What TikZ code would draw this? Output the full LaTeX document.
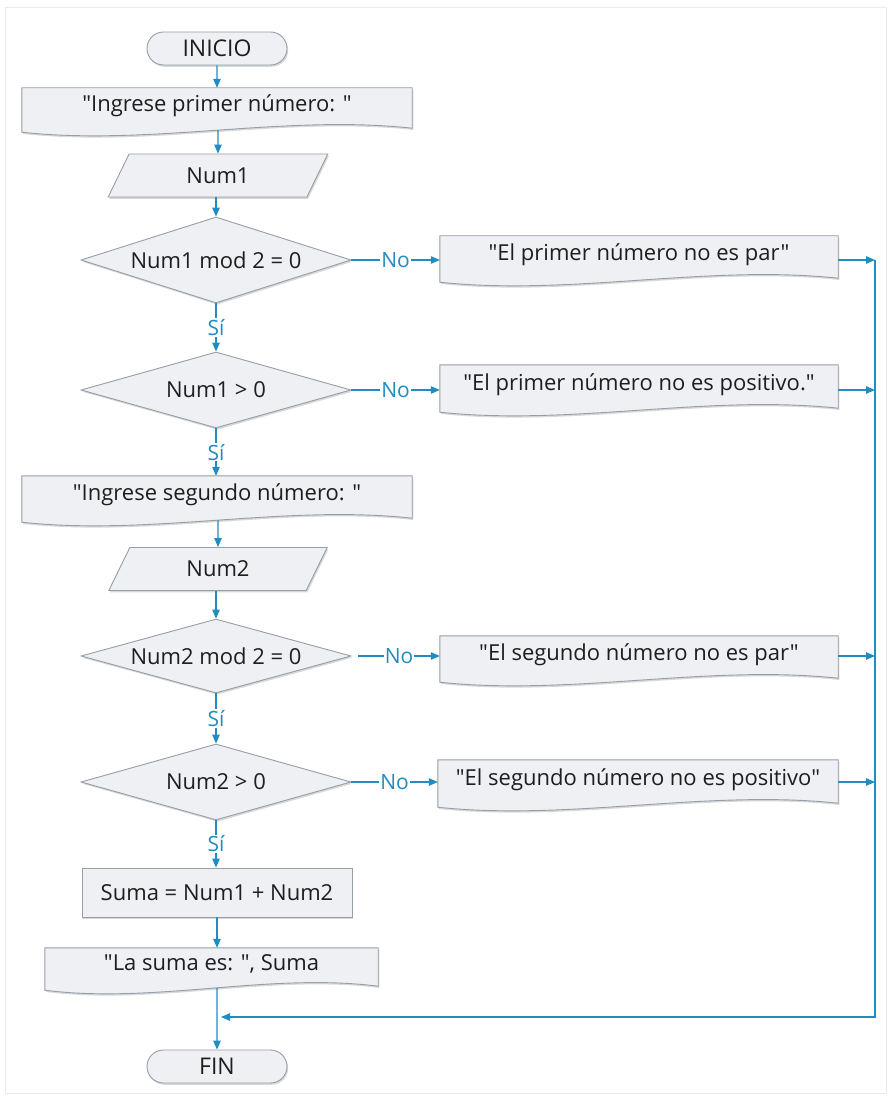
\documentclass[tikz,border=0pt]{standalone}
\usepackage{fontspec}
\setmainfont{Open Sans}[Ligatures=TeXOff]
\usetikzlibrary{shapes.geometric,shapes.misc,arrows.meta,calc,shadows,backgrounds}
\definecolor{arrowblue}{RGB}{32,140,192}
\definecolor{shapefill}{RGB}{238,240,243}
\definecolor{shapeline}{RGB}{150,158,166}
\definecolor{txt}{RGB}{30,30,30}
\newcommand\docpath[1]{%
  \path[docshape] (#1.north west) -- (#1.north east) -- ($(#1.south east)+(0,-2)$)
    .. controls ($(#1.south east)!0.33!(#1.south west)+(0,-16)$) and ($(#1.south east)!0.67!(#1.south west)+(0,16)$) .. ($(#1.south west)+(0,2)$) -- cycle;}
\begin{document}
\begin{tikzpicture}[x=1pt,y=-1pt,
  shadowed/.style={drop shadow={shadow xshift=1.2pt,shadow yshift=-1.8pt,opacity=0.3}},
  txtfont/.style={font=\fontsize{22}{26}\selectfont},
  base/.style={draw=shapeline, fill=shapefill, line width=0.9pt, text=txt, txtfont, inner sep=0pt, shadowed},
  term/.style={base, rounded rectangle, minimum width=140pt, minimum height=33pt, font=\fontsize{23}{26}\selectfont},
  proc/.style={base, rectangle, minimum width=270pt, minimum height=49pt},
  cond/.style={base, diamond, aspect=3.1, minimum width=270pt},
  iobox/.style={base, trapezium, trapezium left angle=65, trapezium right angle=115, trapezium stretches=true, minimum width=220pt, minimum height=43pt},
  docu/.style={text=txt, txtfont, inner sep=0pt, text height=16pt, text depth=11pt},
  docshape/.style={draw=shapeline, fill=shapefill, line width=0.9pt, shadowed},
  arr/.style={draw=arrowblue, line width=1.1pt, -{Triangle[length=9pt,width=7.5pt]}},
  lbl/.style={text=arrowblue, fill=white, inner sep=1pt, font=\fontsize{21}{24}\selectfont}]
\useasboundingbox (0,0) rectangle (893,1099);

% main column
\node[term] (ini) at (217,48.5) {INICIO};
\node[docu, minimum width=390pt, minimum height=42pt] (d1) at (217,109) {"Ingrese primer número: "};
\node[iobox] (p1) at (218,175.5) {Num1};
\node[cond, minimum height=86pt] (c1) at (216,260) {Num1 mod 2 = 0};
\node[cond, minimum height=76pt] (c2) at (216,390) {Num1 > 0};
\node[docu, minimum width=390pt, minimum height=44pt] (d2) at (217,498) {"Ingrese segundo número: "};
\node[iobox] (p2) at (218,569) {Num2};
\node[cond, minimum height=74pt] (c3) at (216,656) {Num2 mod 2 = 0};
\node[cond, minimum height=76pt] (c4) at (216,782) {Num2 > 0};
\node[proc] (s) at (217,892.5) {Suma = Num1 + Num2};
\node[docu, minimum width=333pt, minimum height=40pt] (d3) at (211.5,968) {"La suma es: ", Suma};
\node[term] (fin) at (217,1066.5) {FIN};

% right column
\node[docu, minimum width=398pt, minimum height=44pt] (e1) at (639,258) {"El primer número no es par"};
\node[docu, minimum width=398pt, minimum height=45pt] (e2) at (639,387.5) {"El primer número no es positivo."};
\node[docu, minimum width=398pt, minimum height=44pt] (e3) at (639,658) {"El segundo número no es par"};
\node[docu, minimum width=400pt, minimum height=45pt] (e4) at (638,782.5) {"El segundo número no es positivo"};

\begin{scope}[on background layer]
\fill[white] (0,0) rectangle (893,1099);
\draw[black!8] (5,7) rectangle (886,1093);
\docpath{d1}\docpath{d2}\docpath{d3}
\docpath{e1}\docpath{e2}\docpath{e3}\docpath{e4}
\end{scope}

\coordinate (bus) at (875,260);
\coordinate (busend) at (875,1017);
\coordinate (join) at (221,1017);

% connectors main column
\draw[arr] (ini) -- (d1);
\draw[arr] (d1.south -| p1) -- (p1);
\draw[arr] (p1.south -| c1) -- (c1);
\draw[arr] (c1) -- node[lbl] {Sí} (c2);
\draw[arr] (c2) -- node[lbl] {Sí} (d2.north -| c2);
\draw[arr] (d2.south -| p2) -- (p2);
\draw[arr] (p2.south -| c3) -- (c3);
\draw[arr] (c3) -- node[lbl] {Sí} (c4);
\draw[arr] (c4) -- node[lbl] {Sí} (s.north -| c4);
\draw[arr] (s) -- (s.south |- d3.north);
\draw[arr] (d3.south -| fin) -- (fin);

% No branches
\draw[arr] (c1.east) -- node[lbl] {No} (e1.west |- c1.east);
\draw[arr] (c2.east) -- node[lbl] {No} (e2.west |- c2.east);
\draw[arr] ($(c3.east)+(7,0)$) -- node[lbl] {No} (e3.west |- c3.east);
\draw[arr] (c4.east) -- node[lbl] {No} (e4.west |- c4.east);

% to bus
\draw[arr] (e1.east |- c1.east) -- (bus |- c1.east);
\draw[arr] (e2.east |- c2.east) -- (bus |- c2.east);
\draw[arr] (e3.east |- c3.east) -- (bus |- c3.east);
\draw[arr] (e4.east |- c4.east) -- (bus |- c4.east);
\draw[arr] (bus) -- (busend) -- (join);
\end{tikzpicture}
\end{document}
